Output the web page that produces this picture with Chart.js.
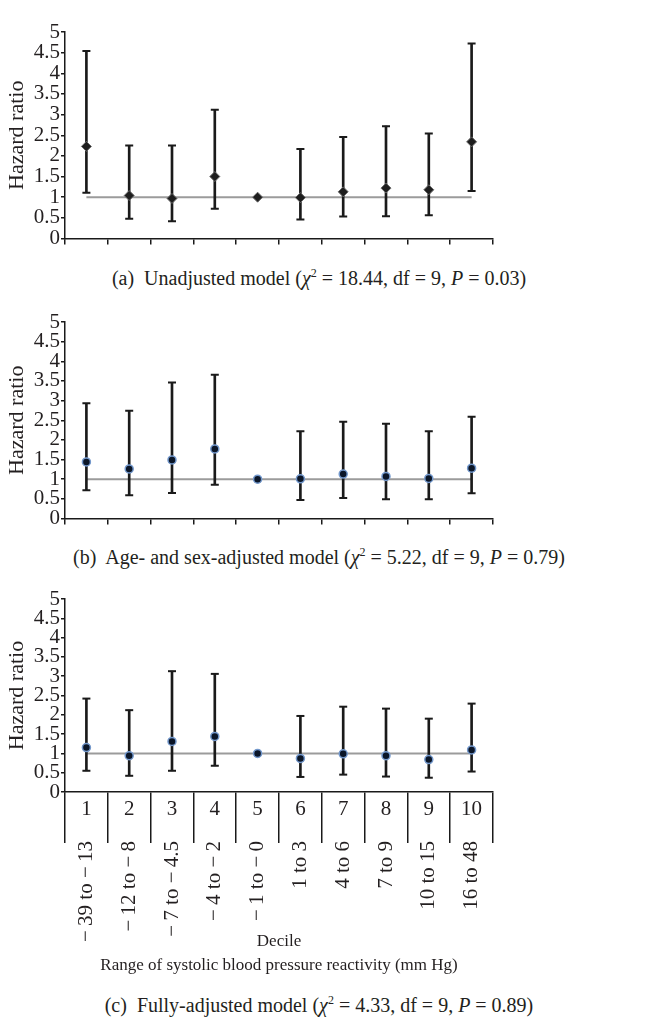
<!DOCTYPE html>
<html>
<head>
<meta charset="utf-8">
<script src="https://cdn.jsdelivr.net/npm/chart.js@4.4.1/dist/chart.umd.min.js"></script>
<style>
  html, body { margin: 0; padding: 0; background: #ffffff; }
  body { width: 666px; height: 1030px; position: relative; overflow: hidden; }
  .panel { position: absolute; left: 0; width: 666px; }
  .cap { position: absolute; left: 0; width: 638px; text-align: center; font-family: "Liberation Serif", serif; font-size: 20px; color: #231f20; line-height: 24px; white-space: nowrap; }
  .cap sup { font-size: 12px; line-height: 0; vertical-align: 8px; }
</style>
</head>
<body>
<div class="panel" style="top:0px;height:250px"><canvas id="cA" width="666" height="250"></canvas></div>
<div class="cap" style="top:266px">(a)&nbsp; Unadjusted model (<i>χ</i><sup>2</sup> = 18.44, df = 9, <i>P</i> = 0.03)</div>
<div class="panel" style="top:290px;height:240px"><canvas id="cB" width="666" height="240"></canvas></div>
<div class="cap" style="top:545px">(b)&nbsp; Age- and sex-adjusted model (<i>χ</i><sup>2</sup> = 5.22, df = 9, <i>P</i> = 0.79)</div>
<div class="panel" style="top:567px;height:411px"><canvas id="cC" width="666" height="411"></canvas></div>
<div class="cap" style="top:993px">(c)&nbsp; Fully-adjusted model (<i>χ</i><sup>2</sup> = 4.33, df = 9, <i>P</i> = 0.89)</div>
<script>
// ---- data ----
const deciles = ['1', '2', '3', '4', '5', '6', '7', '8', '9', '10'];
const ranges = ['−\u200939 to −\u200913', '−\u200912 to −\u20098', '−\u20097 to −\u20094.5', '−\u20094 to −\u20092', '−\u20091 to −\u20090', '1 to 3', '4 to 6', '7 to 9', '10 to 15', '16 to 48'];
const yTicksMin = 0, yTicksMax = 5, yTicksStep = 0.5;
const referenceHR = [1, 1, 1, 1, 1, 1, 1, 1, 1, 1];

// (a) unadjusted
const hrA = [2.23, 1.04, 0.97, 1.50, 1.00, 0.99, 1.13, 1.22, 1.18, 2.34];
const loA = [1.11, 0.48, 0.42, 0.72, null, 0.46, 0.53, 0.54, 0.56, 1.15];
const hiA = [4.54, 2.25, 2.25, 3.12, null, 2.17, 2.46, 2.72, 2.54, 4.72];
// (b) age- and sex-adjusted
const hrB = [1.44, 1.26, 1.49, 1.77, 1.00, 1.01, 1.13, 1.07, 1.02, 1.28];
const loB = [0.72, 0.59, 0.65, 0.86, null, 0.47, 0.52, 0.49, 0.49, 0.64];
const hiB = [2.93, 2.74, 3.46, 3.66, null, 2.22, 2.46, 2.41, 2.22, 2.59];
// (c) fully-adjusted
const hrC = [1.15, 0.94, 1.31, 1.44, 1.00, 0.87, 0.99, 0.94, 0.84, 1.09];
const loC = [0.55, 0.42, 0.55, 0.68, null, 0.39, 0.45, 0.40, 0.37, 0.53];
const hiC = [2.42, 2.12, 3.13, 3.06, null, 1.97, 2.21, 2.16, 1.90, 2.29];

// ---- styling ----
Chart.defaults.font.family = '"Liberation Serif", serif';
Chart.defaults.font.size = 21;
Chart.defaults.color = '#231f20';
const INK = '#1a1a1a';

function makeDatasets(hr, lo, hi, marker) {
  const pointStyle = marker === 'diamond'
    ? { pointStyle: 'rectRot', pointRadius: 5, pointBackgroundColor: '#1e1e1e', pointBorderColor: '#6a6a6a', pointBorderWidth: 1 }
    : { pointStyle: 'circle', pointRadius: 4, pointBackgroundColor: '#0b1628', pointBorderColor: '#7398cc', pointBorderWidth: 1.5 };
  return [
    Object.assign({ type: 'line', label: 'Hazard ratio', data: hr, showLine: false, order: 0 }, pointStyle),
    { type: 'line', label: 'Upper CI', data: hi, showLine: false, pointStyle: 'line', pointRadius: 4, pointBorderWidth: 2, pointBorderColor: INK, order: 1 },
    { type: 'line', label: 'Lower CI', data: lo, showLine: false, pointStyle: 'line', pointRadius: 4, pointBorderWidth: 2, pointBorderColor: INK, order: 1 },
    { type: 'bar', label: '95% CI', data: lo.map((l, i) => (l == null ? null : [l, hi[i]])), backgroundColor: INK, borderWidth: 0, barThickness: 2, grouped: false, order: 2 },
    { type: 'line', label: 'Reference', data: referenceHR, borderColor: '#9b9b9b', borderWidth: 2, pointRadius: 0, fill: false, order: 3 }
  ];
}

function yScale() {
  return {
    type: 'linear', min: yTicksMin, max: yTicksMax,
    ticks: {
      stepSize: yTicksStep, autoSkip: false, maxTicksLimit: 20, padding: 1, color: '#231f20',
      font: { size: 21, lineHeight: 1.0 },
      callback: (v) => String(Math.round(v * 10) / 10)
    },
    grid: { display: true, drawOnChartArea: false, drawTicks: true, tickLength: 4, color: INK, lineWidth: 1.5 },
    border: { display: true, color: INK, width: 1.5 },
    title: { display: true, text: 'Hazard ratio', font: { size: 22 }, color: '#231f20', padding: { top: 4, bottom: 0 } },
    afterFit: (s) => { s.width = 65; }
  };
}

function simpleX() {
  return {
    type: 'category', labels: deciles, offset: true,
    ticks: { display: false },
    grid: { display: true, offset: true, drawOnChartArea: false, drawTicks: true, tickLength: 6, color: INK, lineWidth: 1.5 },
    border: { display: true, color: INK, width: 1.5 },
    afterFit: (s) => { s.height = 11; }
  };
}

const baseOptions = {
  responsive: false, animation: false, devicePixelRatio: 1,
  plugins: { legend: { display: false }, tooltip: { enabled: false } },
  layout: { padding: { top: 32, right: 173, bottom: 0, left: 0 } }
};

new Chart(document.getElementById('cA'), {
  type: 'bar',
  data: { labels: deciles, datasets: makeDatasets(hrA, loA, hiA, 'diamond') },
  options: Object.assign({}, baseOptions, { scales: { x: simpleX(), y: yScale() } })
});

new Chart(document.getElementById('cB'), {
  type: 'bar',
  data: { labels: deciles, datasets: makeDatasets(hrB, loB, hiB, 'circle') },
  options: Object.assign({}, baseOptions, { scales: { x: simpleX(), y: yScale() } })
});

new Chart(document.getElementById('cC'), {
  type: 'bar',
  data: { labels: deciles, datasets: makeDatasets(hrC, loC, hiC, 'circle') },
  options: Object.assign({}, baseOptions, {
    scales: {
      x: {
        type: 'category', labels: deciles, offset: true, position: 'bottom',
        ticks: { autoSkip: false, maxRotation: 0, minRotation: 0, padding: -46, color: '#231f20', font: { size: 21 } },
        grid: { display: true, offset: true, drawOnChartArea: false, drawTicks: true, tickLength: 51, color: INK, lineWidth: 1.5 },
        border: { display: true, color: INK, width: 1.5 },
        afterFit: (s) => { s.height = 41; }
      },
      x2: {
        type: 'category', labels: ranges, offset: true, position: 'bottom',
        ticks: { autoSkip: false, maxRotation: 90, minRotation: 90, padding: 0, color: '#231f20', font: { size: 21 } },
        grid: { display: false },
        border: { display: false },
        title: {
          display: true,
          text: ['Decile', 'Range of systolic blood pressure reactivity (mm Hg)'],
          font: { size: 17, lineHeight: 1.412 },
          color: '#231f20',
          padding: { top: 0, bottom: 0 }
        },
        afterFit: (s) => { s.height = 145; }
      },
      y: yScale()
    }
  })
});
</script>
</body>
</html>
